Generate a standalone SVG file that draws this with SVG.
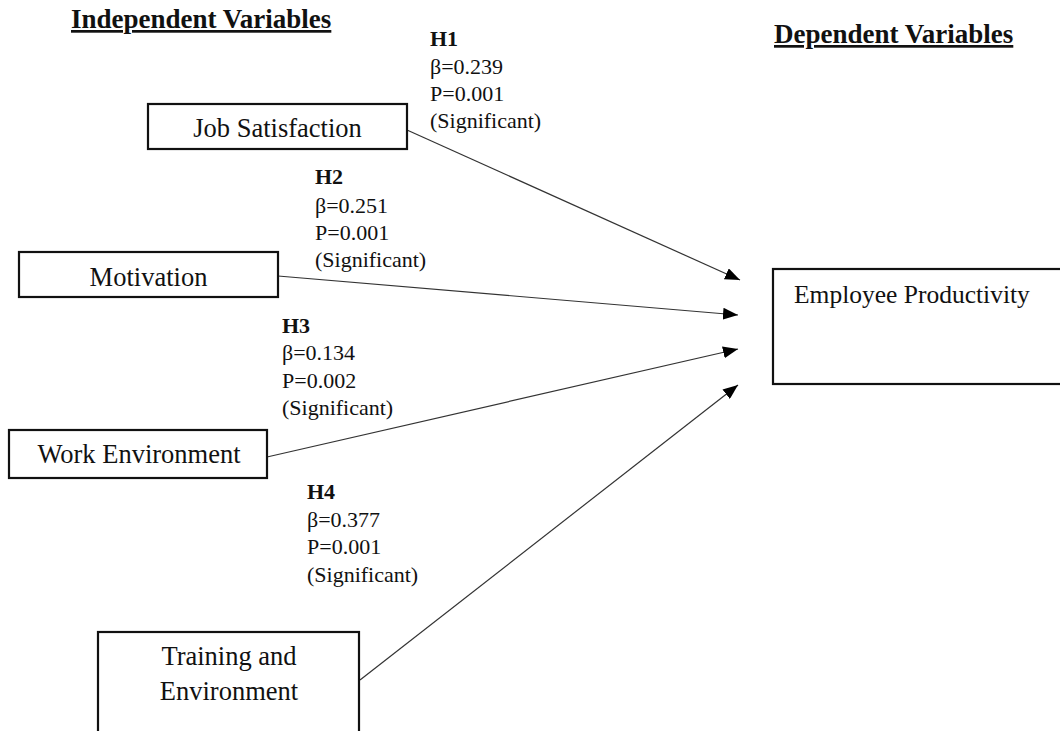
<svg xmlns="http://www.w3.org/2000/svg" width="1060" height="731" viewBox="0 0 1060 731">
<style>
  text { font-family: "Liberation Serif", "Times New Roman", serif; fill: #111; }
  .head { font-size: 27px; font-weight: bold; text-decoration: underline; }
  .box { fill: #fff; stroke: #111; stroke-width: 2.2; }
  .lbl { font-size: 26.5px; text-anchor: middle; }
  .stat { font-size: 22px; }
  .hyp { font-size: 22px; font-weight: bold; }
  .conn { stroke: #333; stroke-width: 1.2; fill: none; marker-end: url(#arrow); }
</style>
<defs>
  <marker id="arrow" viewBox="0 0 15 12" refX="15" refY="6" markerWidth="15" markerHeight="12" markerUnits="userSpaceOnUse" orient="auto">
    <path d="M0,0 L15,6 L0,12 z" fill="#000"/>
  </marker>
</defs>

<text class="head" x="71" y="28">Independent Variables</text>
<text class="head" x="774" y="43">Dependent Variables</text>

<g id="connectors">
  <line class="conn" x1="407" y1="130" x2="740" y2="280"/>
  <line class="conn" x1="278" y1="276" x2="738" y2="315"/>
  <line class="conn" x1="267" y1="457" x2="738" y2="349"/>
  <line class="conn" x1="360" y1="680" x2="738" y2="385"/>
</g>

<g id="job-satisfaction">
  <rect class="box" x="148" y="104" width="259" height="45"/>
  <text class="lbl" x="277.5" y="137">Job Satisfaction</text>
</g>
<g id="motivation">
  <rect class="box" x="19" y="252" width="259" height="45"/>
  <text class="lbl" x="148.5" y="286">Motivation</text>
</g>
<g id="work-environment">
  <rect class="box" x="9" y="430" width="258" height="48"/>
  <text class="lbl" x="139" y="463">Work Environment</text>
</g>
<g id="training-environment">
  <rect class="box" x="98" y="632" width="261" height="130"/>
  <text class="lbl" x="229" y="665">Training and</text>
  <text class="lbl" x="229" y="700">Environment</text>
</g>
<g id="employee-productivity">
  <rect class="box" x="773" y="269" width="300" height="115"/>
  <text class="lbl" x="794" y="303" style="text-anchor:start;font-size:25.5px">Employee Productivity</text>
</g>

<g id="h1-label">
  <text class="hyp" x="430" y="46">H1</text>
  <text class="stat" x="430" y="74">β=0.239</text>
  <text class="stat" x="430" y="101">P=0.001</text>
  <text class="stat" x="430" y="128">(Significant)</text>
</g>
<g id="h2-label">
  <text class="hyp" x="315" y="184">H2</text>
  <text class="stat" x="315" y="212.5">β=0.251</text>
  <text class="stat" x="315" y="240">P=0.001</text>
  <text class="stat" x="315" y="267">(Significant)</text>
</g>
<g id="h3-label">
  <text class="hyp" x="282" y="332.5">H3</text>
  <text class="stat" x="282" y="360">β=0.134</text>
  <text class="stat" x="282" y="387.5">P=0.002</text>
  <text class="stat" x="282" y="415">(Significant)</text>
</g>
<g id="h4-label">
  <text class="hyp" x="307" y="499">H4</text>
  <text class="stat" x="307" y="527">β=0.377</text>
  <text class="stat" x="307" y="554">P=0.001</text>
  <text class="stat" x="307" y="581.5">(Significant)</text>
</g>
</svg>
